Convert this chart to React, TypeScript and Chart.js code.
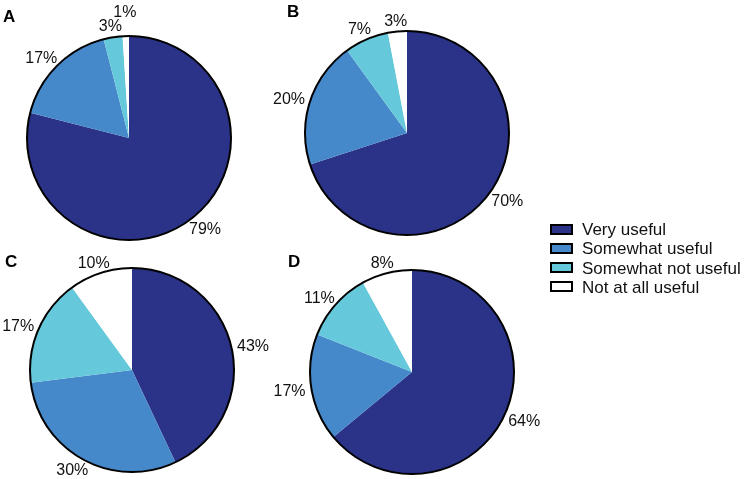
import React, { useEffect, useRef } from "react";
import { Chart, registerables } from "chart.js";

Chart.register(...registerables);

// ---- data ----
const categories = ["Very useful", "Somewhat useful", "Somewhat not useful", "Not at all useful"];
const valuesA = [79, 17, 3, 1];
const valuesB = [70, 20, 7, 3];
const valuesC = [43, 30, 17, 10];
const valuesD = [64, 17, 11, 8];
const panelLetters = ["A", "B", "C", "D"];

// ---- styles / layout ----
const sliceColors = ["#2B3388", "#4689CB", "#66C9DB", "#FFFFFF"];
const FONT = '"Liberation Sans", Arial, Helvetica, sans-serif';
const R = 102;
const PAD = 46;
const S = 2 * R + 2 * PAD;
const GAP = 6;

const panels = [
  { letter: panelLetters[0], values: valuesA, cx: 129, cy: 138, lx: 3, lb: 22 },
  { letter: panelLetters[1], values: valuesB, cx: 407, cy: 133, lx: 287, lb: 17 },
  { letter: panelLetters[2], values: valuesC, cx: 132, cy: 370, lx: 5, lb: 267 },
  { letter: panelLetters[3], values: valuesD, cx: 412, cy: 372, lx: 288, lb: 267 },
];

type Box = { x0: number; y0: number; x1: number; y1: number };
const overlaps = (a: Box, b: Box) => a.x0 < b.x1 && b.x0 < a.x1 && a.y0 < b.y1 && b.y0 < a.y1;

const outlineAndLabels = {
  id: "outlineAndLabels",
  afterDatasetsDraw(chart: any) {
    const ctx = chart.ctx as CanvasRenderingContext2D;
    const meta = chart.getDatasetMeta(0);
    const arcs = meta.data;
    if (!arcs.length) return;
    const c0 = arcs[0].getProps(["x", "y", "outerRadius"], true);
    ctx.save();
    ctx.beginPath();
    ctx.arc(c0.x, c0.y, c0.outerRadius, 0, Math.PI * 2);
    ctx.lineWidth = 2;
    ctx.strokeStyle = "#000";
    ctx.stroke();

    ctx.font = `16px ${FONT}`;
    ctx.fillStyle = "#111";
    ctx.textAlign = "center";
    ctx.textBaseline = "alphabetic";
    const vals = chart.data.datasets[0].data as number[];
    const h = 11.5;
    const placed: Box[] = [];
    arcs.forEach((arc: any, i: number) => {
      const p = arc.getProps(["startAngle", "endAngle"], true);
      const mid = (p.startAngle + p.endAngle) / 2;
      const c = Math.cos(mid);
      const s = Math.sin(mid);
      const text = `${vals[i]}%`;
      const w = ctx.measureText(text).width;
      const ax = c0.x + c * (c0.outerRadius + GAP);
      const ay = c0.y + s * (c0.outerRadius + GAP);
      let tx = ax + (c * w) / 2;
      let ty = ay + (s * h) / 2;
      const boxAt = (x: number, y: number): Box => ({
        x0: x - w / 2,
        y0: y - h / 2 - 1,
        x1: x + w / 2,
        y1: y + h / 2 + 1,
      });
      let steps = 0;
      while (placed.some((b) => overlaps(b, boxAt(tx, ty))) && steps < 60) {
        tx += c;
        ty += s;
        steps++;
      }
      placed.push(boxAt(tx, ty));
      ctx.fillText(text, tx, ty + h / 2);
    });
    ctx.restore();
  },
};

function PiePanel({ values, cx, cy }: { values: number[]; cx: number; cy: number }) {
  const ref = useRef<HTMLCanvasElement>(null);
  useEffect(() => {
    const chart = new Chart(ref.current!, {
      type: "pie",
      data: {
        labels: categories,
        datasets: [
          {
            data: values,
            backgroundColor: sliceColors,
            borderWidth: 0,
            hoverOffset: 0,
            offset: 0,
          } as any,
        ],
      },
      options: {
        responsive: false,
        animation: false,
        devicePixelRatio: 1,
        events: [],
        layout: { padding: PAD },
        plugins: { legend: { display: false }, tooltip: { enabled: false } },
      },
      plugins: [outlineAndLabels],
    });
    return () => chart.destroy();
  }, []);
  return (
    <canvas
      ref={ref}
      width={S}
      height={S}
      style={{ position: "absolute", left: cx - R - PAD, top: cy - R - PAD, width: S, height: S }}
    />
  );
}

const legendX = 550;
const legendTextX = 582;
const legendY0 = 229;
const legendStep = 19.3;

export default function App() {
  return (
    <div
      style={{
        position: "absolute",
        left: 0,
        top: 0,
        width: 750,
        height: 479,
        overflow: "hidden",
        background: "#fff",
        fontFamily: FONT,
      }}
    >
      {panels.map((p) => (
        <PiePanel key={p.letter} values={p.values} cx={p.cx} cy={p.cy} />
      ))}
      {panels.map((p) => (
        <div
          key={"l" + p.letter}
          style={{
            position: "absolute",
            left: p.lx,
            top: p.lb - 14.4,
            fontSize: 17,
            lineHeight: "17px",
            fontWeight: "bold",
            color: "#000",
            whiteSpace: "nowrap",
          }}
        >
          {p.letter}
        </div>
      ))}
      {categories.map((cat, i) => {
        const cy = legendY0 + i * legendStep;
        return (
          <React.Fragment key={cat}>
            <div
              style={{
                position: "absolute",
                left: legendX,
                top: cy - 5.5,
                width: 23,
                height: 11,
                boxSizing: "border-box",
                border: "2px solid #000",
                background: sliceColors[i],
              }}
            />
            <div
              style={{
                position: "absolute",
                left: legendTextX,
                top: cy + 6.3 - 14.4,
                fontSize: 17,
                lineHeight: "17px",
                color: "#111",
                whiteSpace: "nowrap",
              }}
            >
              {cat}
            </div>
          </React.Fragment>
        );
      })}
    </div>
  );
}
